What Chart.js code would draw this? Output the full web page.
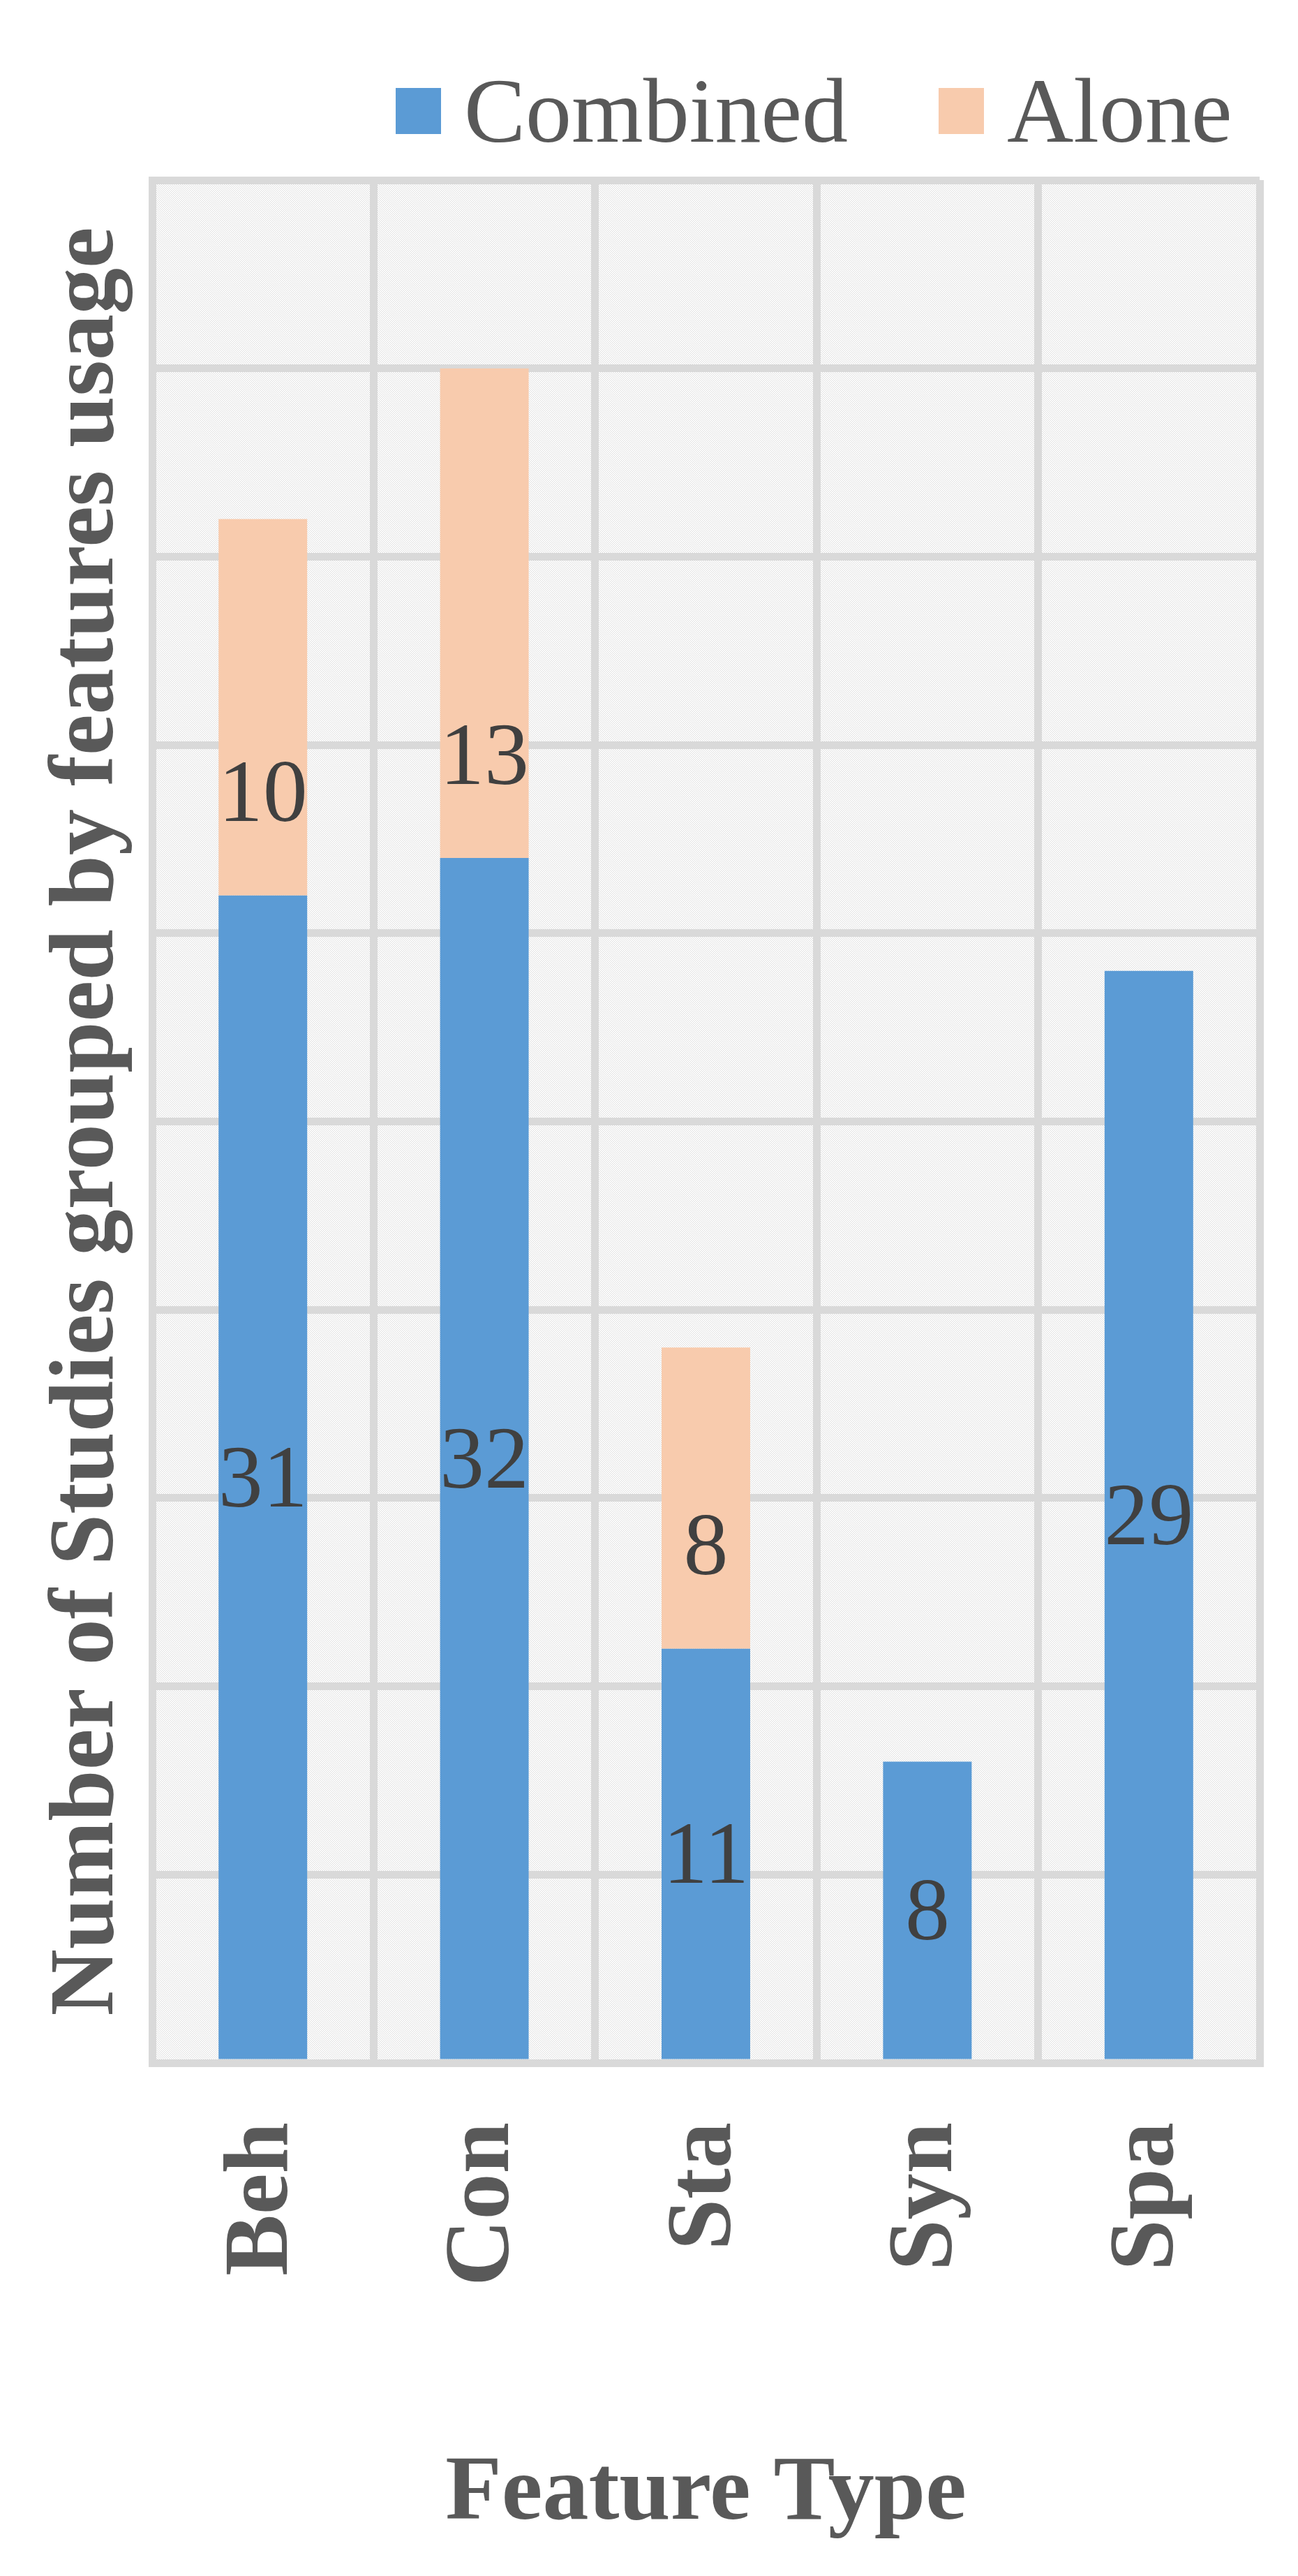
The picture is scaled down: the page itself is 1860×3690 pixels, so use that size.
<!DOCTYPE html>
<html>
<head>
<meta charset="utf-8">
<script src="https://cdn.jsdelivr.net/npm/chart.js@4"></script>
<style>
  html, body { margin: 0; padding: 0; background: #fff; }
  #wrap { width: 1860px; height: 3690px; }
</style>
</head>
<body>
<div id="wrap"><canvas id="chart" width="1860" height="3690"></canvas></div>
<script>
// data
const categories = ['Beh', 'Con', 'Sta', 'Syn', 'Spa'];
const combined = [31, 32, 11, 8, 29];
const alone = [10, 13, 8, 0, 0];
const seriesNames = ['Combined', 'Alone'];
const yMax = 50;
const yStep = 5;

const FONT = '"Liberation Serif", "Times New Roman", serif';
const GRID = '#d9d9d9';
const TEXT = '#595959';

// plot background: fine diagonal hatch
function hatchPattern(ctx) {
    const tile = document.createElement('canvas');
    tile.width = 3;
    tile.height = 3;
    const t = tile.getContext('2d');
    t.fillStyle = '#ffffff';
    t.fillRect(0, 0, 3, 3);
    t.fillStyle = '#dcdcdc';
    for (let i = 0; i < 3; i++) t.fillRect(i, i, 1, 1);
    return ctx.createPattern(tile, 'repeat');
}

const plotBackground = {
    id: 'plotBackground',
    beforeDraw(chart) {
        const { ctx, chartArea: a } = chart;
        ctx.save();
        ctx.fillStyle = hatchPattern(ctx);
        ctx.fillRect(a.left, a.top, a.right - a.left, a.bottom - a.top);
        ctx.restore();
    }
};

// value labels: Combined centred, Alone near the base of its segment
const barLabels = {
    id: 'barLabels',
    afterDatasetsDraw(chart) {
        const ctx = chart.ctx;
        ctx.save();
        ctx.font = '128px ' + FONT;
        ctx.fillStyle = '#404040';
        ctx.textAlign = 'center';
        ctx.textBaseline = 'middle';
        chart.data.datasets.forEach((ds, di) => {
            const meta = chart.getDatasetMeta(di);
            meta.data.forEach((bar, i) => {
                const v = ds.data[i];
                if (!v) return;
                const p = bar.getProps(['x', 'y', 'base'], true);
                const y = di === 0 ? (p.y + p.base) / 2 + 8 : p.base - 140;
                ctx.fillText(String(v), p.x, y);
            });
        });
        ctx.restore();
    }
};

// legend in the top right
const topLegend = {
    id: 'topLegend',
    afterDraw(chart) {
        const ctx = chart.ctx;
        ctx.save();
        ctx.font = '132px ' + FONT;
        ctx.textBaseline = 'alphabetic';
        let x = 567;
        chart.data.datasets.forEach(ds => {
            ctx.fillStyle = ds.backgroundColor;
            ctx.fillRect(x, 126, 65, 66);
            ctx.fillStyle = TEXT;
            ctx.fillText(ds.label, x + 98, 203);
            x += 98 + ctx.measureText(ds.label).width + 130;
        });
        ctx.restore();
    }
};

new Chart(document.getElementById('chart'), {
    type: 'bar',
    data: {
        labels: categories,
        datasets: [
            { label: seriesNames[0], data: combined, backgroundColor: '#5b9bd5' },
            { label: seriesNames[1], data: alone, backgroundColor: '#f8cbad' }
        ]
    },
    options: {
        responsive: false,
        animation: false,
        devicePixelRatio: 1,
        layout: { padding: { top: 258, right: 55, bottom: 0, left: 0 } },
        datasets: { bar: { categoryPercentage: 0.4, barPercentage: 1 } },
        plugins: {
            legend: { display: false },
            tooltip: { enabled: false }
        },
        scales: {
            x: {
                stacked: true,
                afterFit(scale) {
                    scale.height = 735;
                    scale.paddingLeft = 0;
                    scale.paddingRight = 0;
                },
                grid: { color: GRID, lineWidth: 11, drawTicks: false, offset: true },
                border: { color: GRID, width: 11 },
                ticks: {
                    autoSkip: false,
                    minRotation: 90,
                    maxRotation: 90,
                    padding: 85,
                    color: TEXT,
                    font: { family: FONT, size: 132, weight: 'bold' }
                },
                title: {
                    display: true,
                    text: 'Feature Type',
                    color: TEXT,
                    padding: { top: 0, bottom: 37 },
                    font: { family: FONT, size: 132, weight: 'bold' }
                }
            },
            y: {
                stacked: true,
                min: 0,
                max: yMax,
                afterFit(scale) {
                    scale.width = 218;
                    scale.paddingTop = 0;
                    scale.paddingBottom = 0;
                },
                grid: { color: GRID, lineWidth: 11, drawTicks: false },
                border: { color: GRID, width: 11 },
                ticks: { display: false, stepSize: yStep },
                title: {
                    display: true,
                    text: 'Number of Studies grouped by features usage',
                    color: TEXT,
                    padding: { top: 48, bottom: 0 },
                    font: { family: FONT, size: 132, weight: 'bold' }
                }
            }
        }
    },
    plugins: [plotBackground, barLabels, topLegend]
});
</script>
</body>
</html>
